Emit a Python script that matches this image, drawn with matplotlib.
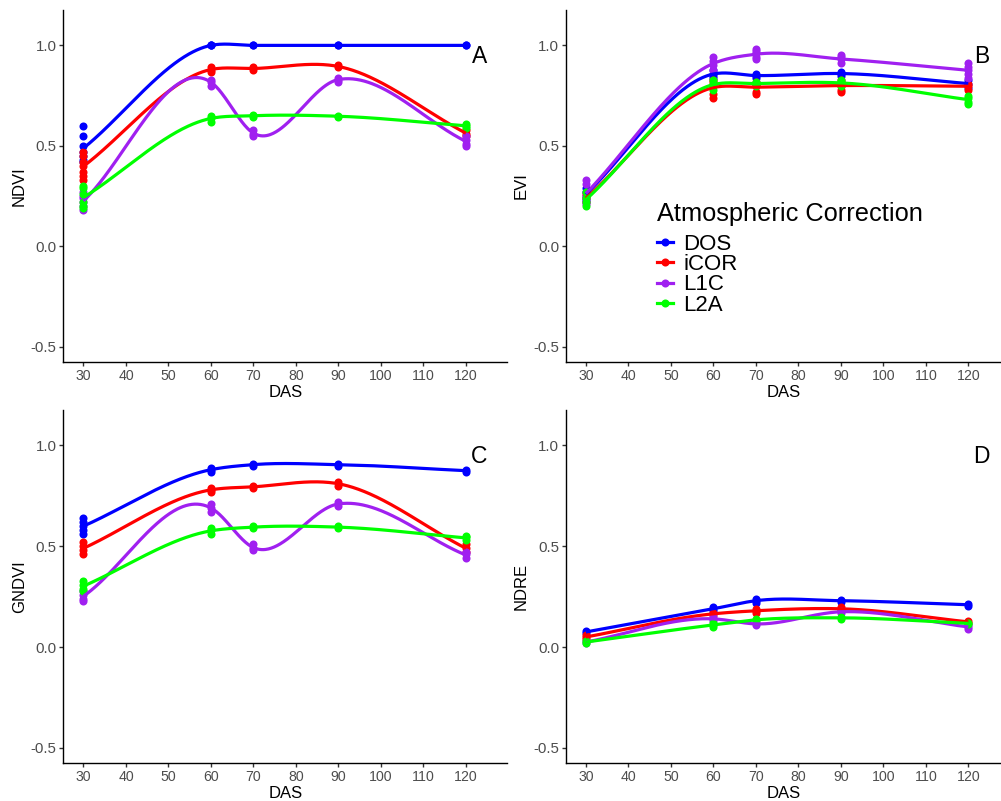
import numpy as np
import matplotlib.pyplot as plt
from matplotlib.lines import Line2D

plt.rcParams['font.family'] = ['Liberation Sans', 'DejaVu Sans']

das = [30, 60, 70, 90, 120]
methods = ['DOS', 'iCOR', 'L1C', 'L2A']
colours = ['#0000FF', '#FF0000', '#A020F0', '#00FF00']

# replicate readings at each DAS (one inner list per date)
ndvi_dos = [[0.60, 0.55, 0.50, 0.47, 0.45, 0.43, 0.42], [1.0, 1.0, 1.0], [1.0, 1.0], [1.0, 1.0], [1.0, 1.0]]
ndvi_icor = [[0.47, 0.45, 0.42, 0.40, 0.37, 0.35, 0.33], [0.89, 0.88, 0.87], [0.89, 0.88], [0.90, 0.89], [0.58, 0.56, 0.55]]
ndvi_l1c = [[0.27, 0.25, 0.24, 0.22, 0.20, 0.18], [0.83, 0.82, 0.80], [0.58, 0.56, 0.55], [0.84, 0.83, 0.82], [0.55, 0.53, 0.51, 0.50]]
ndvi_l2a = [[0.30, 0.29, 0.26, 0.22, 0.20, 0.19], [0.65, 0.64, 0.62], [0.655, 0.645], [0.65, 0.645], [0.61, 0.60, 0.59]]

evi_dos = [[0.29, 0.27, 0.25, 0.23], [0.88, 0.86, 0.85, 0.84], [0.86, 0.85, 0.84], [0.87, 0.86, 0.85], [0.83, 0.81, 0.79]]
evi_icor = [[0.26, 0.24, 0.22], [0.83, 0.82, 0.80, 0.76, 0.74], [0.82, 0.81, 0.80, 0.77, 0.76], [0.83, 0.82, 0.80, 0.78, 0.77], [0.81, 0.80, 0.78]]
evi_l1c = [[0.33, 0.31, 0.27, 0.24, 0.22, 0.21], [0.94, 0.92, 0.90, 0.88], [0.98, 0.97, 0.96, 0.94, 0.93], [0.95, 0.94, 0.93, 0.91], [0.91, 0.89, 0.88, 0.86, 0.84]]
evi_l2a = [[0.27, 0.24, 0.22, 0.20], [0.83, 0.81, 0.80, 0.78], [0.82, 0.81, 0.80], [0.83, 0.81, 0.80], [0.75, 0.74, 0.72, 0.71]]

gndvi_dos = [[0.64, 0.62, 0.60, 0.58, 0.56], [0.89, 0.88, 0.87], [0.91, 0.90], [0.91, 0.90], [0.88, 0.87]]
gndvi_icor = [[0.52, 0.50, 0.48, 0.46], [0.79, 0.78, 0.77], [0.80, 0.79], [0.82, 0.80], [0.51, 0.49, 0.47]]
gndvi_l1c = [[0.28, 0.26, 0.24, 0.23], [0.71, 0.69, 0.67], [0.51, 0.49, 0.48], [0.72, 0.70], [0.47, 0.46, 0.44]]
gndvi_l2a = [[0.33, 0.31, 0.29, 0.28], [0.59, 0.58, 0.56], [0.60, 0.59], [0.60, 0.59], [0.55, 0.545, 0.53]]

ndre_dos = [[0.08, 0.07], [0.20, 0.19, 0.18], [0.24, 0.23, 0.22], [0.235, 0.225], [0.215, 0.205]]
ndre_icor = [[0.06, 0.05, 0.04], [0.17, 0.16], [0.19, 0.18, 0.17], [0.20, 0.19, 0.18], [0.13, 0.12]]
ndre_l1c = [[0.03, 0.02], [0.15, 0.14, 0.13], [0.12, 0.11], [0.18, 0.17], [0.11, 0.10, 0.09]]
ndre_l2a = [[0.03, 0.02], [0.12, 0.11, 0.10], [0.14, 0.13], [0.15, 0.14], [0.12, 0.115]]

panels = [
    ('A', 'NDVI', [ndvi_dos, ndvi_icor, ndvi_l1c, ndvi_l2a]),
    ('B', 'EVI', [evi_dos, evi_icor, evi_l1c, evi_l2a]),
    ('C', 'GNDVI', [gndvi_dos, gndvi_icor, gndvi_l1c, gndvi_l2a]),
    ('D', 'NDRE', [ndre_dos, ndre_icor, ndre_l1c, ndre_l2a]),
]


def local_quad(x, y, grid):
    # local quadratic fits on neighbouring dates, blended across each interval
    k = np.unique(x)
    m = np.array([y[x == v].mean() for v in k])
    n = len(k)
    fits = {}
    for i in range(1, n - 1):
        sel = (x >= k[i - 1]) & (x <= k[i + 1])
        fits[i] = np.polyfit(x[sel] - k[i], y[sel], 2)
    out = np.empty_like(grid)
    for j in range(n - 1):
        seg = (grid >= k[j]) & (grid <= k[j + 1])
        g = grid[seg]
        t = (g - k[j]) / (k[j + 1] - k[j])
        chord = m[j] + t * (m[j + 1] - m[j])
        left = np.polyval(fits[j], g - k[j]) if j >= 1 else chord
        right = np.polyval(fits[j + 1], g - k[j + 1]) if j + 1 <= n - 2 else chord
        out[seg] = (1 - t) * left + t * right
    return out


W, H = 1001, 801
fig = plt.figure(figsize=(W / 100, H / 100), dpi=100)

# panel boxes in pixels: left, top, right, bottom
boxes = [(63.3, 10, 507.3, 362), (565.7, 10, 1001, 362),
         (63.3, 410, 507.3, 763), (565.7, 410, 1001, 763)]
px_per_unit = (507.3 - 63.3) / (129.75 - 25.25)

grid = np.linspace(30, 120, 400)
axes = []
for (lab, ylab, series), (l, t, r, b) in zip(panels, boxes):
    ax = fig.add_axes([l / W, 1 - b / H, (r - l) / W, (b - t) / H])
    axes.append(ax)
    for reps, col in zip(series, colours):
        xr = np.repeat(das, [len(v) for v in reps]).astype(float)
        yr = np.concatenate(reps)
        ax.plot(xr, yr, 'o', color=col, ms=5.8, mew=0, zorder=2)
    for reps, col in zip(series, colours):
        xr = np.repeat(das, [len(v) for v in reps]).astype(float)
        yr = np.concatenate(reps)
        ax.plot(grid, local_quad(xr, yr, grid), color=col, lw=2.3, zorder=3,
                solid_capstyle='butt')

    ax.set_xlim(25.25, 25.25 + (r - l) / px_per_unit)
    ax.set_ylim(-0.575, 1.176)
    ax.set_xticks(np.arange(30, 121, 10))
    ax.set_yticks([-0.5, 0.0, 0.5, 1.0])
    ax.set_yticklabels(['-0.5', '0.0', '0.5', '1.0'])
    ax.set_xlabel('DAS', fontsize=12, labelpad=1.5)
    ax.set_ylabel(ylab, fontsize=12, labelpad=3)
    ax.text(123.2, 0.912, lab, fontsize=16.5, ha='center', va='baseline')

    ax.spines['top'].set_visible(False)
    ax.spines['right'].set_visible(False)
    ax.spines['left'].set_linewidth(1.0)
    ax.spines['bottom'].set_linewidth(1.0)
    ax.tick_params(axis='both', length=2.75, width=1.0, color='#333333',
                   labelcolor='#4D4D4D')
    ax.tick_params(axis='x', pad=2.5, labelsize=10.2)
    ax.tick_params(axis='y', pad=2, labelsize=10.8)

handles = [Line2D([], [], color=c, lw=2.3, marker='o', ms=5.8, mew=0) for c in colours]
leg = axes[1].legend(handles, methods, title='Atmospheric Correction',
                     loc='upper left', bbox_to_anchor=(657 / W, 1 - 202 / H),
                     bbox_transform=fig.transFigure, frameon=False,
                     fontsize=16, title_fontsize=18.3, handlelength=0.72,
                     handletextpad=0.46, labelspacing=-0.03, borderpad=0,
                     borderaxespad=0)
leg._legend_box.align = 'left'
leg._legend_box.sep = 5.6

fig.savefig('out.png', dpi=100, facecolor='white')
